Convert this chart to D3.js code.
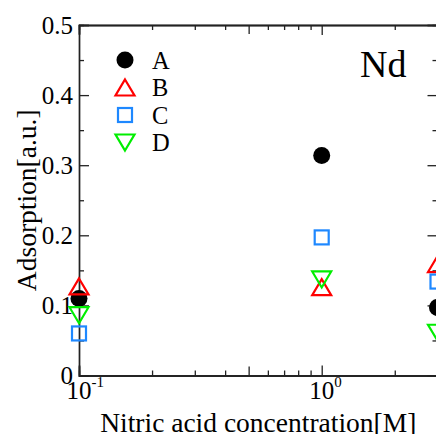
<!DOCTYPE html>
<html>
<head>
<meta charset="utf-8">
<script src="https://cdn.jsdelivr.net/npm/d3@7"></script>
<style>
html,body{margin:0;padding:0;background:#fff;overflow:hidden;}
svg{display:block;}
text{font-family:"Liberation Serif","Times New Roman",serif;fill:#000;}
</style>
</head>
<body>
<svg id="chart" width="436" height="434"></svg>
<script>
// ---- data ----
const concentrations = [0.1, 1, 3];
const seriesNames = ["A", "B", "C", "D"];
const seriesA = [0.110, 0.314, 0.097];
const seriesB = [0.127, 0.126, 0.159];
const seriesC = [0.060, 0.197, 0.134];
const seriesD = [0.086, 0.137, 0.061];
const yMajorTicks = [0, 0.1, 0.2, 0.3, 0.4, 0.5];
const yMinorTicks = [0.05, 0.15, 0.25, 0.35, 0.45];
const yTickLabels = ["0", "0.1", "0.2", "0.3", "0.4", "0.5"];
const xMajorTicks = [0.1, 1];
const xMidTicks = [0.5];
const xMinorTicks = [0.2, 0.3, 0.4, 0.6, 0.7, 0.8, 0.9, 2];
const xTickExponents = ["-1", "0"];
const elementLabel = "Nd";
const xTitle = "Nitric acid concentration[M]";
const yTitle = "Adsorption[a.u.]";

// ---- layout ----
const L = 79, R = 437.5, T = 25, B = 375.5;
const svg = d3.select("#chart");
const x = d3.scaleLog().domain([0.1, 3]).range([L, R]);
const y = d3.scaleLinear().domain([0, 0.5]).range([B, T]);
const axisColor = "#222";

function styleAxis(g) {
  g.select(".domain").attr("stroke", axisColor).attr("stroke-width", 1.4);
  g.selectAll(".tick line").attr("stroke", axisColor).attr("stroke-width", 1.3);
}

// left axis
const gl = svg.append("g").attr("transform", `translate(${L},0)`)
  .call(d3.axisLeft(y).tickValues(yMajorTicks).tickSize(-10).tickPadding(6)
    .tickFormat((d, i) => yTickLabels[i]));
styleAxis(gl);
gl.selectAll(".tick text").attr("font-size", 25).attr("dy", "0.33em")
  .style("font-family", '"Liberation Serif", serif').attr("fill", "#000");
const glm = svg.append("g").attr("transform", `translate(${L},0)`)
  .call(d3.axisLeft(y).tickValues(yMinorTicks).tickSize(-5).tickFormat(""));
styleAxis(glm);

// right axis
const gr = svg.append("g").attr("transform", `translate(${R},0)`)
  .call(d3.axisRight(y).tickValues(yMajorTicks).tickSize(-10).tickFormat(""));
styleAxis(gr);
const grm = svg.append("g").attr("transform", `translate(${R},0)`)
  .call(d3.axisRight(y).tickValues(yMinorTicks).tickSize(-5).tickFormat(""));
styleAxis(grm);

// bottom & top axes
[[d3.axisBottom, B], [d3.axisTop, T]].forEach(([fn, pos]) => {
  [[xMajorTicks, -10], [xMidTicks, -9], [xMinorTicks, -5]].forEach(([vals, size]) => {
    const g = svg.append("g").attr("transform", `translate(0,${pos})`)
      .call(fn(x).tickValues(vals).tickSize(size).tickFormat(""));
    styleAxis(g);
  });
});

// x tick labels 10^n
xMajorTicks.forEach((v, i) => {
  const t = svg.append("text").attr("x", x(v)).attr("y", 398.5)
    .attr("font-size", 25).attr("text-anchor", "start");
  t.append("tspan").text("10");
  t.append("tspan").attr("font-size", 15).attr("dy", -11.5).text(xTickExponents[i]);
  const w = 25; // width of "10"
  t.attr("x", x(v) - w / 2);
});

// axis titles
svg.append("text").attr("x", (L + R) / 2).attr("y", 432)
  .attr("text-anchor", "middle").attr("font-size", 27.5).text(xTitle);
svg.append("text").attr("transform", `translate(36,${(T + B) / 2}) rotate(-90)`)
  .attr("text-anchor", "middle").attr("font-size", 27.5).text(yTitle);

// element label
svg.append("text").attr("x", 360).attr("y", 77).attr("font-size", 38).text(elementLabel);

// ---- markers ----
const triW = 19, triH = 16, sq = 14;
const markers = {
  A: g => g.append("circle").attr("r", 8.5).attr("fill", "#000"),
  B: g => g.append("path").attr("d", `M0,${-triH/2}L${triW/2},${triH/2}L${-triW/2},${triH/2}Z`)
        .attr("fill", "none").attr("stroke", "#ff0000").attr("stroke-width", 2.2).attr("stroke-linejoin", "miter"),
  C: g => g.append("rect").attr("x", -sq/2).attr("y", -sq/2).attr("width", sq).attr("height", sq)
        .attr("fill", "none").attr("stroke", "#1e88ff").attr("stroke-width", 2.2),
  D: g => g.append("path").attr("d", `M0,${triH/2}L${triW/2},${-triH/2}L${-triW/2},${-triH/2}Z`)
        .attr("fill", "none").attr("stroke", "#00ee00").attr("stroke-width", 2.2).attr("stroke-linejoin", "miter")
};
const seriesVals = [seriesA, seriesB, seriesC, seriesD];

seriesNames.forEach((name, si) => {
  seriesVals[si].forEach((v, i) => {
    const g = svg.append("g").attr("transform", `translate(${x(concentrations[i])},${y(v)})`);
    markers[name](g);
  });
});

// legend
seriesNames.forEach((name, i) => {
  const cy = 60 + i * 27.5;
  const g = svg.append("g").attr("transform", `translate(125,${cy})`);
  markers[name](g);
  svg.append("text").attr("x", 152).attr("y", cy + 8.5).attr("font-size", 24.5).text(name);
});
</script>
</body>
</html>
